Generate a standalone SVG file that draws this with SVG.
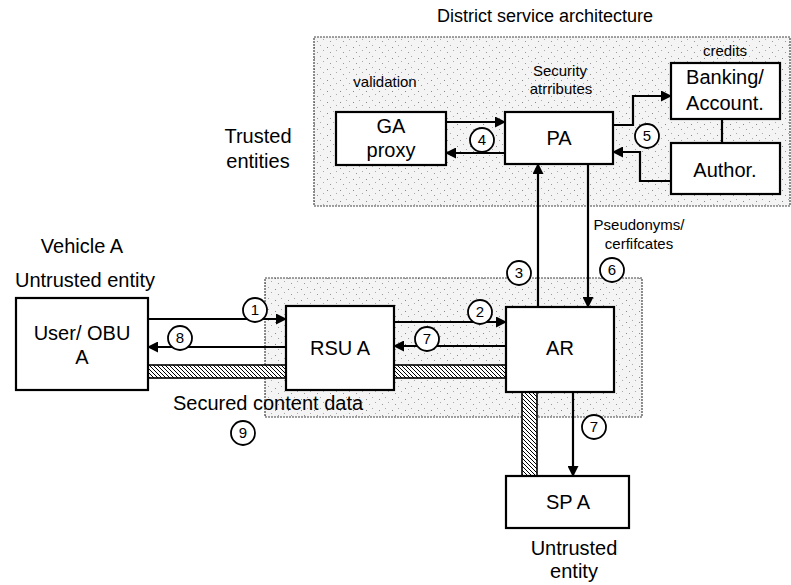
<svg xmlns="http://www.w3.org/2000/svg" width="791" height="585" viewBox="0 0 791 585">
<defs>
<pattern id="hatch" patternUnits="userSpaceOnUse" width="4" height="4">
<rect width="4" height="4" fill="#fff"/>
<path d="M-1,-1 L5,5 M-1,3 L1,5 M3,-1 L5,1" stroke="#000" stroke-width="1"/>
</pattern>
<pattern id="stipple" patternUnits="userSpaceOnUse" width="13" height="11">
<rect width="13" height="11" fill="#f4f4f4"/>
<rect x="2" y="3" width="1" height="1" fill="#888"/>
<rect x="8" y="1" width="1" height="1" fill="#aaa"/>
<rect x="5" y="8" width="1" height="1" fill="#999"/>
<rect x="11" y="6" width="1" height="1" fill="#aaa"/>
</pattern>
<marker id="ah" markerWidth="11" markerHeight="11" refX="10" refY="5.5" orient="auto" markerUnits="userSpaceOnUse">
<path d="M0,0 L11,5.5 L0,11 Z" fill="#000"/>
</marker>
</defs>
<style>
text{font-family:"Liberation Sans",Arial,sans-serif;fill:#000}
.lbl{font-size:20px;text-anchor:middle}
.sm{font-size:15px}
.num{font-size:15px;text-anchor:middle}
.box{fill:#fff;stroke:#000;stroke-width:2.2}
.area{fill:url(#stipple);stroke:#444;stroke-width:1.2;stroke-dasharray:2 1}
.c{fill:none;stroke:#000;stroke-width:2.2}
.ca{fill:none;stroke:#000;stroke-width:2.2;marker-end:url(#ah)}
.circ{fill:#fff;stroke:#000;stroke-width:1.8}
.hb{fill:url(#hatch);stroke:#000;stroke-width:1.6}
</style>

<g id="areas">
<rect class="area" x="314" y="37" width="476" height="169"/>
<rect class="area" x="265" y="278" width="377" height="139"/>
</g>

<g id="free-labels">
<text x="545" y="22" style="font-size:18px;text-anchor:middle">District service architecture</text>
<text class="lbl" x="258" y="143">Trusted</text>
<text class="lbl" x="258" y="168">entities</text>
<text class="lbl" x="82" y="253">Vehicle A</text>
<text class="lbl" x="85" y="287">Untrusted entity</text>
<text class="lbl" x="268" y="410">Secured content data</text>
<text class="lbl" x="574" y="555">Untrusted</text>
<text class="lbl" x="574" y="578">entity</text>
<text class="sm" x="385" y="87" text-anchor="middle">validation</text>
<text class="sm" x="560" y="76" text-anchor="middle">Security</text>
<text class="sm" x="561" y="94" text-anchor="middle">atrributes</text>
<text class="sm" x="725" y="56" text-anchor="middle">credits</text>
<text class="sm" x="639" y="230" text-anchor="middle">Pseudonyms/</text>
<text class="sm" x="639" y="249" text-anchor="middle">cerfifcates</text>
</g>

<g id="connectors">
<rect class="hb" x="148" y="365" width="138" height="13"/>
<rect class="hb" x="394" y="365" width="112" height="13"/>
<rect class="hb" x="522" y="392" width="15" height="84"/>
<path class="ca" d="M446,122 H505"/>
<path class="ca" d="M505,153 H446"/>
<path class="ca" d="M613,125 H633 V96 H671"/>
<path class="c" d="M722,119 V143"/>
<path class="ca" d="M671,181 H640 V152 H613"/>
<path class="ca" d="M538,307 V164"/>
<path class="ca" d="M588,164 V307"/>
<path class="ca" d="M148,319 H286"/>
<path class="ca" d="M286,347 H148"/>
<path class="ca" d="M394,322 H506"/>
<path class="ca" d="M506,346 H394"/>
<path class="ca" d="M573,392 V476"/>
</g>

<g id="ga-proxy">
<rect class="box" x="336" y="112" width="110" height="53"/>
<text class="lbl" x="391" y="133">GA</text>
<text class="lbl" x="391" y="157">proxy</text>
</g>
<g id="pa">
<rect class="box" x="505" y="112" width="108" height="52"/>
<text class="lbl" x="559" y="145">PA</text>
</g>
<g id="banking">
<rect class="box" x="671" y="63" width="109" height="56"/>
<text class="lbl" x="725" y="84">Banking/</text>
<text class="lbl" x="725" y="110">Account.</text>
</g>
<g id="author">
<rect class="box" x="671" y="143" width="109" height="51"/>
<text class="lbl" x="725" y="177">Author.</text>
</g>
<g id="user-obu">
<rect class="box" x="16" y="298" width="132" height="92"/>
<text class="lbl" x="82" y="340">User/ OBU</text>
<text class="lbl" x="82" y="364">A</text>
</g>
<g id="rsu-a">
<rect class="box" x="286" y="306" width="108" height="84"/>
<text class="lbl" x="340" y="355">RSU A</text>
</g>
<g id="ar">
<rect class="box" x="506" y="307" width="108" height="85"/>
<text class="lbl" x="560" y="355">AR</text>
</g>
<g id="sp-a">
<rect class="box" x="506" y="476" width="123" height="52"/>
<text class="lbl" x="568" y="509">SP A</text>
</g>

<g id="step-markers">
<circle class="circ" cx="255" cy="310" r="12"/><text class="num" x="255" y="315">1</text>
<circle class="circ" cx="480" cy="312" r="12"/><text class="num" x="480" y="317">2</text>
<circle class="circ" cx="519" cy="273" r="12"/><text class="num" x="519" y="278">3</text>
<circle class="circ" cx="482" cy="140" r="12"/><text class="num" x="482" y="145">4</text>
<circle class="circ" cx="647" cy="136" r="12"/><text class="num" x="647" y="141">5</text>
<circle class="circ" cx="612" cy="270" r="12"/><text class="num" x="612" y="275">6</text>
<circle class="circ" cx="427" cy="339" r="12"/><text class="num" x="427" y="344">7</text>
<circle class="circ" cx="594" cy="427" r="12"/><text class="num" x="594" y="432">7</text>
<circle class="circ" cx="180" cy="338" r="12"/><text class="num" x="180" y="343">8</text>
<circle class="circ" cx="243" cy="433" r="12"/><text class="num" x="243" y="438">9</text>
</g>
</svg>
